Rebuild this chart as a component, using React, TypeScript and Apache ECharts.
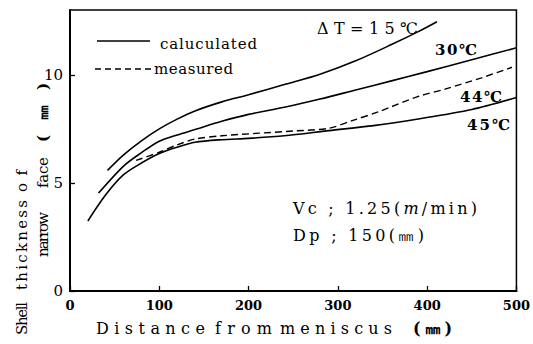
import React, { useEffect, useRef } from "react";
import * as echarts from "echarts";

const xTicks = [0, 100, 200, 300, 400, 500];
const yTicks = [0, 5, 10];

const calc15: [number, number][] = [
  [42, 5.58], [60, 6.3], [80, 6.95], [100, 7.5], [120, 7.95], [140, 8.33], [170, 8.75], [200, 9.08],
  [240, 9.55], [280, 10.03], [320, 10.65], [360, 11.4], [390, 12.0], [411, 12.46],
];
const calc30: [number, number][] = [
  [32, 4.53], [60, 5.78], [80, 6.4], [100, 6.93], [120, 7.22], [140, 7.47], [170, 7.85], [200, 8.17],
  [240, 8.5], [280, 8.88], [320, 9.3], [360, 9.72], [400, 10.15], [450, 10.7], [500, 11.25],
];
const meas44: [number, number][] = [
  [74, 6.04], [100, 6.42], [120, 6.76], [140, 7.03], [170, 7.18], [208, 7.29], [250, 7.4], [290, 7.53],
  [316, 7.88], [346, 8.3], [390, 9.0], [420, 9.34], [460, 9.85], [495, 10.35],
];
const calc45: [number, number][] = [
  [20, 3.24], [40, 4.45], [60, 5.38], [80, 5.92], [100, 6.36], [120, 6.65], [140, 6.88], [170, 7.0],
  [200, 7.06], [240, 7.18], [290, 7.42], [340, 7.65], [390, 7.96], [450, 8.4], [500, 8.95],
];

const FONT = "DejaVu Serif";

let measureCtx: CanvasRenderingContext2D | null = null;
function spacedText(
  str: string,
  start: number,
  end: number,
  pos: number,
  size: number,
  weight: string = "normal",
  vertical: boolean = false,
  italicIdx: number[] = []
) {
  if (!measureCtx) measureCtx = document.createElement("canvas").getContext("2d");
  const chars = Array.from(str);
  const widths = chars.map((c, i) => {
    const st = italicIdx.includes(i) ? "italic " : "";
    measureCtx!.font = `${st}${weight} ${size}px "${FONT}"`;
    return measureCtx!.measureText(c).width;
  });
  const total = widths.reduce((a, b) => a + b, 0);
  const gap = chars.length > 1 ? (Math.abs(end - start) - total) / (chars.length - 1) : 0;
  let cur = 0;
  const els: any[] = [];
  chars.forEach((c, i) => {
    const center = cur + widths[i] / 2;
    if (c !== " ") {
      const style: any = {
        text: c,
        fontFamily: FONT,
        fontSize: size,
        fontWeight: weight,
        fontStyle: italicIdx.includes(i) ? "italic" : "normal",
        fill: "#000",
        align: "center",
        verticalAlign: "middle",
      };
      if (!vertical) {
        els.push({ type: "text", x: start + center, y: pos, style });
      } else {
        els.push({ type: "text", x: pos, y: start - center, rotation: Math.PI / 2, style });
      }
    }
    cur += widths[i] + gap;
  });
  return els;
}

export default function App() {
  const ref = useRef<HTMLDivElement>(null);
  useEffect(() => {
    if (!ref.current) return;
    const chart = echarts.init(ref.current, null, { renderer: "svg" });
    const lineStyle = { color: "#000", width: 1.6 };
    const graphics: any[] = [
      { type: "line", shape: { x1: 97, y1: 41, x2: 150, y2: 41 }, style: { stroke: "#000", lineWidth: 1.6 } },
      { type: "line", shape: { x1: 95, y1: 69, x2: 152, y2: 69 }, style: { stroke: "#000", lineWidth: 1.4, lineDash: [6, 4] } },
      ...spacedText("caluculated", 160, 257, 44, 15),
      ...spacedText("measured", 154, 233, 69, 15),
      ...spacedText("ΔT=15℃", 317, 418, 28, 16),
      ...spacedText("30℃", 435, 477, 50, 15, "bold"),
      ...spacedText("44℃", 460, 502, 97, 15, "bold"),
      ...spacedText("45℃", 467, 510, 125, 15, "bold"),
      ...spacedText("Vc ; 1.25(m/min)", 293, 477, 208, 16, "normal", false, [10]),
      ...spacedText("Dp ; 150(㎜)", 293, 424, 235, 16),
      ...spacedText("Distance", 96, 205, 328, 16),
      ...spacedText("from", 215, 272, 328, 16),
      ...spacedText("meniscus", 280, 392, 328, 16),
      ...spacedText("(㎜)", 413, 452, 328, 16, "bold"),
      ...spacedText("Shell", 335, 302, 22, 15, "normal", true),
      ...spacedText("thickness", 290, 200, 22, 15, "normal", true),
      ...spacedText("of", 192, 170, 22, 15, "normal", true),
      ...spacedText("narrow", 257, 212, 43, 15, "normal", true),
      ...spacedText("face", 188, 157, 43, 15, "normal", true),
      ...spacedText("(㎜)", 142, 83, 43, 15, "bold", true),
    ];
    chart.setOption({
      animation: false,
      backgroundColor: "#fff",
      grid: { left: 70, right: 15, top: 10, bottom: 53, show: true, borderColor: "#000", borderWidth: 1.5 },
      xAxis: {
        type: "value",
        min: xTicks[0],
        max: xTicks[xTicks.length - 1],
        interval: 100,
        axisLine: { show: true, lineStyle: { color: "#000", width: 2 } },
        axisTick: { show: true, inside: true, length: 5, lineStyle: { color: "#000", width: 1.3 } },
        splitLine: { show: false },
        axisLabel: { color: "#000", fontFamily: FONT, fontSize: 13, fontWeight: "bold", margin: 8 },
      },
      yAxis: {
        type: "value",
        min: yTicks[0],
        max: 13,
        interval: 5,
        axisLine: { show: true, lineStyle: { color: "#000", width: 2 } },
        axisTick: { show: true, inside: true, length: 5, lineStyle: { color: "#000", width: 1.3 } },
        splitLine: { show: false },
        axisLabel: { color: "#000", fontFamily: FONT, fontSize: 15, margin: 7, showMaxLabel: false },
      },
      series: [
        { type: "line", data: calc15, smooth: 0.3, symbol: "none", lineStyle },
        { type: "line", data: calc30, smooth: 0.3, symbol: "none", lineStyle },
        { type: "line", data: meas44, smooth: 0.3, symbol: "none", lineStyle: { color: "#000", width: 1.4, type: [7, 4] } },
        { type: "line", data: calc45, smooth: 0.3, symbol: "none", lineStyle },
      ],
      graphic: graphics,
    });
    return () => chart.dispose();
  }, []);
  return <div ref={ref} style={{ position: "fixed", left: 0, top: 0, width: 533, height: 344 }} />;
}
